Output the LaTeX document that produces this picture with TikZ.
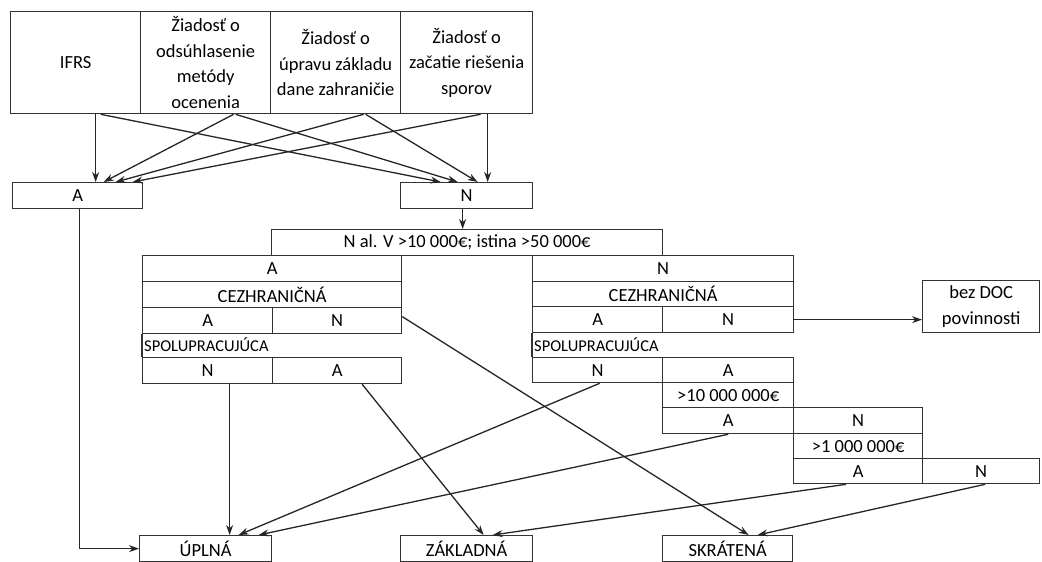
\documentclass[tikz,border=0pt]{standalone}
\usepackage{fontspec}
\setmainfont{Carlito}
\usetikzlibrary{arrows.meta,calc}
\newcommand\mycell[6]{\node[box, minimum width=#4pt, minimum height=#5pt] (#1) at (#2,#3) {#6};}
\begin{document}
\begin{tikzpicture}[x=1pt,y=-1pt,
  box/.style={draw=black!80, line width=1.3pt, inner sep=0pt, anchor=north west,
    font=\fontsize{18.5}{25.5}\selectfont, align=center, text=black},
  spol/.style={anchor=west, inner sep=0pt, font=\fontsize{16.5}{18}\selectfont, text=black},
  arr/.style={draw=black!85, line width=1.3pt, -{Stealth[length=10pt,width=7pt]}},
  ln/.style={draw=black!80, line width=1.3pt}]
\useasboundingbox[fill=white] (0,0) rectangle (1042,562);
% top row
\mycell{ifrs}{10}{11}{130}{102}{IFRS}
\mycell{za}{140}{11}{130}{102}{Žiadosť o\\odsúhlasenie\\metódy\\ocenenia}
\mycell{zb}{270}{11}{130}{102}{Žiadosť o\\úpravu základu\\dane zahraničie}
\mycell{zc}{400}{11}{132}{102}{Žiadosť o\\začatie riešenia\\sporov}
% A / N
\mycell{a}{12}{182}{130}{26}{A}
\mycell{n}{400}{182}{132}{26}{N}
\mycell{nalv}{271}{229}{391}{26}{N al. V >10 000€; istina >50 000€}
% left table
\mycell{la}{142}{255}{259}{26}{A}
\mycell{lcez}{142}{281}{259}{26}{CEZHRANIČNÁ}
\mycell{lA1}{142}{307}{130}{26}{A}
\mycell{lN1}{272}{307}{129}{26}{N}
\node[spol] (lspol) at (144,345) {SPOLUPRACUJÚCA};
\mycell{lN2}{142}{357}{130}{26}{N}
\mycell{lA2}{272}{357}{129}{26}{A}
\draw[ln] (lA1.south west) -- (lN2.north west);
% right table
\mycell{rn}{532}{255}{261}{26}{N}
\mycell{rcez}{532}{281}{261}{25}{CEZHRANIČNÁ}
\mycell{rA1}{532}{306}{130}{26}{A}
\mycell{rN1}{662}{306}{131}{26}{N}
\node[spol] (rspol) at (534,345) {SPOLUPRACUJÚCA};
\mycell{rN2}{532}{357}{130}{25}{N}
\mycell{rA2}{662}{357}{131}{25}{A}
\draw[ln] (rA1.south west) -- (rN2.north west);
\mycell{r10}{662}{382}{131}{25}{>10 000 000€}
\mycell{rA3}{662}{407}{131}{26}{A}
\mycell{rN3}{793}{407}{129}{26}{N}
\mycell{r1}{793}{433}{129}{25}{>1 000 000€}
\mycell{rA4}{793}{458}{129}{25}{A}
\mycell{rN4}{922}{458}{117}{25}{N}
\mycell{bez}{922}{280}{117}{52}{bez DOC\\povinnosti}
% bottom
\mycell{upl}{139}{535}{132}{26}{ÚPLNÁ}
\mycell{zak}{400}{535}{132}{26}{ZÁKLADNÁ}
\mycell{skr}{662}{535}{130}{26}{SKRÁTENÁ}
% connectors top
\draw[arr] ([xshift=20pt]ifrs.south) -- ([xshift=18pt]a.north);
\draw[arr] ([xshift=25pt]ifrs.south) -- ([xshift=-26pt]n.north);
\draw[arr] ([xshift=28pt]za.south) -- ([xshift=26pt]a.north);
\draw[arr] ([xshift=30pt]za.south) -- ([xshift=-9pt]n.north);
\draw[arr] ([xshift=28pt]zb.south) -- ([xshift=38pt]a.north);
\draw[arr] ([xshift=30pt]zb.south) -- ([xshift=11pt]n.north);
\draw[arr] ([xshift=14pt]zc.south) -- ([xshift=55pt]a.north);
\draw[arr] ([xshift=21pt]zc.south) -- ([xshift=21pt]n.north);
\draw[arr] ([xshift=-4pt]n.south) -- ([xshift=-4pt]n.south |- nalv.north);
% connectors bottom
\draw[arr] ([xshift=2pt]a.south) |- (upl.west);
\draw[arr] ([xshift=22pt]lN2.south) -- ([xshift=22pt]lN2.south |- upl.north);
\draw[arr] ([xshift=25pt]lA2.south) -- ([xshift=17pt]zak.north);
\draw[arr] ([yshift=4pt]lN1.east) -- ([xshift=21pt]skr.north);
\draw[arr] ([xshift=2pt]rN2.south) -- ([xshift=33pt]upl.north);
\draw[arr] (rA3.south) -- ([xshift=53pt]upl.north);
\draw[arr] ([xshift=-12pt]rA4.south) -- ([xshift=26pt]zak.north);
\draw[arr] ([xshift=4pt]rN4.south) -- ([xshift=30pt]skr.north);
\draw[arr] (rN1.east) -- (rN1.east -| bez.west);
\end{tikzpicture}
\end{document}
